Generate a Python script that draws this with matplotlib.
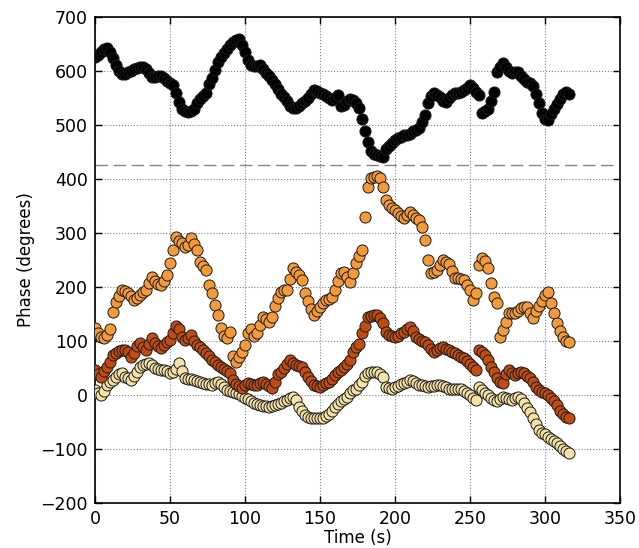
import numpy as np
import matplotlib
matplotlib.use('Agg')
import matplotlib.pyplot as plt

# sample times (s), every 2 s
time = [0, 2, 4, 6, 8, 10, 12, 14, 16, 18,
        20, 22, 24, 26, 28, 30, 32, 34, 36, 38,
        40, 42, 44, 46, 48, 50, 52, 54, 56, 58,
        60, 62, 64, 66, 68, 70, 72, 74, 76, 78,
        80, 82, 84, 86, 88, 90, 92, 94, 96, 98,
        100, 102, 104, 106, 108, 110, 112, 114, 116, 118,
        120, 122, 124, 126, 128, 130, 132, 134, 136, 138,
        140, 142, 144, 146, 148, 150, 152, 154, 156, 158,
        160, 162, 164, 166, 168, 170, 172, 174, 176, 178,
        180, 182, 184, 186, 188, 190, 192, 194, 196, 198,
        200, 202, 204, 206, 208, 210, 212, 214, 216, 218,
        220, 222, 224, 226, 228, 230, 232, 234, 236, 238,
        240, 242, 244, 246, 248, 250, 252, 254, 256, 258,
        260, 262, 264, 266, 268, 270, 272, 274, 276, 278,
        280, 282, 284, 286, 288, 290, 292, 294, 296, 298,
        300, 302, 304, 306, 308, 310, 312, 314, 316]

# phase of each channel (degrees)
phase_black = [626, 630, 636, 641, 643, 636, 624, 612, 600, 594,
               595, 598, 600, 603, 605, 607, 608, 603, 596, 588,
               589, 591, 590, 587, 582, 578, 574, 560, 543, 530,
               526, 524, 525, 530, 541, 548, 553, 560, 575, 587,
               602, 617, 626, 633, 640, 648, 654, 658, 660, 648,
               636, 620, 612, 610, 609, 611, 604, 596, 590, 583,
               575, 566, 558, 551, 544, 536, 532, 531, 535, 540,
               544, 550, 558, 565, 563, 560, 557, 553, 550, 547,
               550, 556, 535, 537, 544, 549, 547, 540, 531, 512,
               488, 468, 451, 447, 445, 442, 441, 455, 462, 467,
               472, 476, 478, 481, 482, 484, 488, 490, 495, 505,
               518, 540, 553, 559, 556, 552, 545, 542, 550, 556,
               559, 560, 561, 564, 568, 574, 568, 562, 556, 522,
               526, 530, 545, 562, 599, 608, 615, 608, 600, 596,
               598, 598, 590, 585, 580, 577, 572, 558, 540, 522,
               512, 509, 520, 530, 538, 548, 558, 562, 557]

phase_orange = [124, 115, 108, 105, 112, 122, 153, 172, 183, 195,
                192, 189, 183, 176, 180, 185, 190, 195, 207, 219,
                212, 206, 203, 212, 222, 245, 268, 292, 285, 281,
                274, 278, 290, 280, 268, 246, 238, 231, 203, 189,
                167, 148, 124, 110, 105, 117, 72, 62, 70, 80,
                93, 115, 122, 110, 115, 130, 145, 140, 135, 145,
                165, 179, 190, 194, 194, 215, 235, 228, 222, 213,
                189, 175, 160, 148, 155, 163, 170, 176, 178, 182,
                194, 212, 225, 228, 218, 209, 225, 245, 258, 268,
                330, 385, 402, 404, 405, 402, 385, 361, 352, 346,
                343, 337, 331, 328, 334, 339, 333, 328, 324, 312,
                287, 250, 226, 228, 231, 240, 250, 246, 242, 230,
                217, 216, 214, 213, 203, 194, 176, 189, 240, 253,
                248, 235, 207, 182, 170, 107, 120, 135, 151, 152,
                151, 155, 161, 163, 163, 152, 142, 155, 165, 175,
                185, 191, 170, 152, 133, 118, 107, 100, 98]

phase_brown = [46, 38, 33, 45, 52, 62, 74, 78, 82, 83,
               83, 80, 70, 78, 90, 96, 88, 83, 95, 105,
               97, 91, 87, 92, 98, 102, 115, 128, 122, 108,
               102, 106, 111, 100, 92, 88, 83, 78, 72, 65,
               61, 56, 52, 48, 45, 40, 28, 20, 16, 13,
               18, 22, 21, 18, 19, 22, 25, 20, 16, 13,
               25, 38, 43, 50, 58, 65, 60, 55, 53, 52,
               42, 33, 26, 19, 17, 15, 18, 22, 25, 30,
               37, 42, 47, 52, 58, 64, 80, 88, 95, 115,
               128, 145, 147, 148, 148, 142, 133, 117, 112, 110,
               108, 110, 114, 117, 122, 126, 118, 108, 104, 100,
               98, 92, 85, 80, 84, 87, 89, 86, 83, 80,
               78, 75, 71, 68, 63, 58, 52, 46, 83, 80,
               75, 65, 52, 42, 31, 24, 22, 38, 46, 40,
               37, 40, 43, 40, 36, 31, 24, 15, 10, 6,
               4, 0, -5, -11, -19, -30, -36, -40, -43]

phase_yellow = [9, 4, 0, 8, 18, 24, 28, 33, 38, 40,
                34, 32, 28, 35, 42, 52, 55, 58, 59, 55,
                50, 48, 47, 46, 44, 40, 42, 48, 59, 45,
                31, 30, 29, 28, 26, 24, 22, 21, 20, 19,
                22, 25, 20, 15, 9, 7, 5, 3, 1, -2,
                -5, -8, -12, -15, -17, -19, -20, -21, -22, -20,
                -18, -16, -14, -11, -9, -5, -3, -10, -22, -30,
                -37, -40, -43, -43, -43, -43, -42, -38, -35, -30,
                -22, -16, -12, -8, -3, 3, 9, 12, 18, 25,
                35, 40, 42, 43, 42, 38, 34, 15, 13, 12,
                14, 17, 20, 22, 25, 28, 26, 23, 19, 18,
                17, 15, 16, 17, 18, 19, 17, 15, 12, 12,
                12, 12, 12, 8, 3, 0, -5, -9, 15, 10,
                3, 0, -5, -9, -12, -8, -3, -5, -7, -9,
                -6, -3, -8, -15, -24, -32, -43, -54, -65, -70,
                -73, -78, -82, -86, -89, -95, -100, -104, -107]

threshold = 425

fig = plt.figure(figsize=(6.39, 5.48), dpi=100)
ax = fig.add_axes([0.1487, 0.0821, 0.8213, 0.8869])

series = [(phase_yellow, '#f6e2a4'),
          (phase_brown, '#c24c10'),
          (phase_orange, '#f59a38'),
          (phase_black, '#000000')]
for values, colour in series:
    ax.scatter(time, values, s=64, c=colour, edgecolors='#1a1a1a',
               linewidths=0.7, zorder=3)

ax.axhline(threshold, color='#888888', lw=1.0, dashes=(9, 4), zorder=2)

ax.set_xlim(0, 350)
ax.set_ylim(-200, 700)
ax.set_xticks(np.arange(0, 351, 50))
ax.set_yticks(np.arange(-200, 701, 100))
ax.grid(True, color='0.5', linestyle=':', lw=0.8, zorder=0)
ax.tick_params(direction='in', top=True, right=True, length=5, width=1,
               labelsize=12.5, pad=5)
for sp in ax.spines.values():
    sp.set_linewidth(1.2)
ax.set_xlabel('Time (s)', fontsize=12, labelpad=1)
ax.set_ylabel('Phase (degrees)', fontsize=12)

fig.savefig('out.png', dpi=100)
